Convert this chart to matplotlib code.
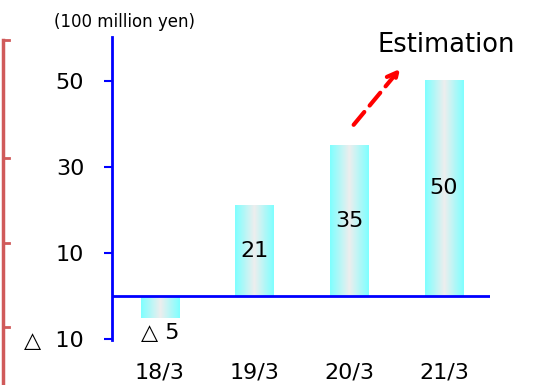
import matplotlib
matplotlib.use('Agg')
import matplotlib.pyplot as plt
from matplotlib.lines import Line2D
from matplotlib.colors import LinearSegmentedColormap
import numpy as np

# fiscal year ends and profit (100 million yen), last bar is the estimate
periods = ['18/3', '19/3', '20/3', '21/3']
values = [-5, 21, 35, 50]
value_labels = ['△ 5', '21', '35', '50']
ytick_values = [50, 30, 10, -10]
ytick_labels = ['50', '30', '10', '△  10']

BLUE = '#0000FF'
bar_cmap = LinearSegmentedColormap.from_list('bar', ['#7FFFFF', '#EEEEEE', '#7FFFFF'])

W, H = 535, 385
fig = plt.figure(figsize=(W / 100, H / 100), dpi=100)
ax = fig.add_axes([112 / W, 1 - 340 / H, (490 - 112) / W, (340 - 37) / H])

x = np.arange(len(periods))
width = 0.41
grad = np.linspace(0, 1, 64).reshape(1, -1)
for xi, v, lab in zip(x, values, value_labels):
    ax.imshow(grad, cmap=bar_cmap, aspect='auto', interpolation='bilinear',
              extent=[xi - width / 2, xi + width / 2, min(0, v), max(0, v)], zorder=2)
    if v > 0:
        ax.text(xi, v / 2, lab, ha='center', va='center', fontsize=16, zorder=3)
    else:
        ax.text(xi, v - 1.2, lab, ha='center', va='top', fontsize=16, zorder=3)

ax.set_xlim(-0.507, 3.486)
ax.set_ylim(-10.2, 60.2)
ax.axhline(0, color=BLUE, lw=2, zorder=4)

for s in ['top', 'right', 'bottom']:
    ax.spines[s].set_visible(False)
ax.spines['left'].set_color(BLUE)
ax.spines['left'].set_linewidth(2)

ax.set_yticks(ytick_values)
ax.set_yticklabels(ytick_labels, fontsize=16)
ax.tick_params(axis='y', colors=BLUE, length=6, width=1.5, pad=14, labelcolor='black')
ax.set_xticks(x)
ax.set_xticklabels(periods, fontsize=16)
ax.tick_params(axis='x', length=0, pad=16)

ax.annotate('', xy=(2.555, 53.3), xytext=(2.027, 39.3),
            arrowprops=dict(arrowstyle='->', color='red', lw=3, linestyle=(0, (4, 2)),
                            mutation_scale=18))

fig.text(125 / W, 1 - 22 / H, '(100 million yen)', ha='center', va='center', fontsize=12)
fig.text(446 / W, 1 - 45 / H, 'Estimation', ha='center', va='center', fontsize=18.5)

# edge of the neighbouring panel
fig.add_artist(Line2D([3 / W, 3 / W], [0, 1 - 40 / H], color='#D05A5A', lw=2.5))
for ty in [40, 158, 243, 327]:
    fig.add_artist(Line2D([3 / W, 9 / W], [1 - ty / H, 1 - ty / H], color='#D05A5A', lw=2))

fig.savefig('out.png', dpi=100)
